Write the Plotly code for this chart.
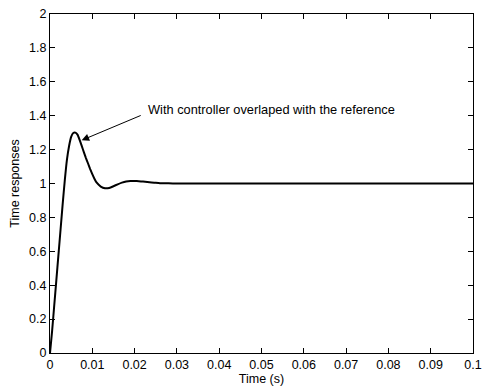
import plotly.graph_objects as go

t = [0, 0.0005, 0.001, 0.0015, 0.002, 0.0025, 0.003, 0.0035, 0.004, 0.0045,
     0.005, 0.0055, 0.006, 0.0065, 0.007, 0.0075, 0.008, 0.0085, 0.009, 0.0095,
     0.010, 0.0105, 0.011, 0.012, 0.013, 0.014, 0.015, 0.016, 0.017, 0.018,
     0.019, 0.020, 0.021, 0.022, 0.023, 0.024, 0.025, 0.026, 0.028, 0.03, 0.1]
y = [0, 0.13, 0.28, 0.43, 0.58, 0.73, 0.88, 1.02, 1.14, 1.22,
     1.275, 1.298, 1.30, 1.288, 1.258, 1.222, 1.185, 1.15, 1.118, 1.085,
     1.055, 1.028, 1.006, 0.982, 0.972, 0.974, 0.984, 0.995, 1.005, 1.012,
     1.015, 1.015, 1.014, 1.012, 1.009, 1.006, 1.004, 1.002, 1.001, 1.0, 1.0]

xticks = [0, 0.01, 0.02, 0.03, 0.04, 0.05, 0.06, 0.07, 0.08, 0.09, 0.1]
xticklabels = ["0", "0.01", "0.02", "0.03", "0.04", "0.05", "0.06", "0.07", "0.08", "0.09", "0.1"]
yticks = [0, 0.2, 0.4, 0.6, 0.8, 1, 1.2, 1.4, 1.6, 1.8, 2]
yticklabels = ["0", "0.2", "0.4", "0.6", "0.8", "1", "1.2", "1.4", "1.6", "1.8", "2"]

annot_text = "With controller overlaped with the reference"
arrow_head = (0.00748, 1.255)
arrow_tail = (0.0218, 1.405)
text_pos = (0.0227, 1.434)

font = dict(family="Liberation Sans, Arial, sans-serif", size=12.5, color="black")
afont = dict(family="Liberation Sans, Arial, sans-serif", size=12.8, color="black")

fig = go.Figure()
fig.add_trace(go.Scatter(x=t, y=y, mode="lines",
                         line=dict(color="black", width=2, shape="spline", smoothing=0.4),
                         showlegend=False, hoverinfo="skip"))

fig.add_annotation(x=arrow_head[0], y=arrow_head[1], ax=arrow_tail[0], ay=arrow_tail[1],
                   xref="x", yref="y", axref="x", ayref="y", text="",
                   showarrow=True, arrowhead=2, arrowsize=1.5, arrowwidth=1, arrowcolor="black")
fig.add_annotation(x=text_pos[0], y=text_pos[1], xref="x", yref="y", text=annot_text,
                   showarrow=False, xanchor="left", yanchor="middle", font=afont)

axis_common = dict(showgrid=False, zeroline=False, showline=True, linecolor="black",
                   linewidth=1, mirror="ticks", ticks="inside", ticklen=5, tickcolor="black",
                   tickfont=font, ticklabeloverflow="allow")

fig.update_xaxes(range=[0, 0.1], tickvals=xticks, ticktext=xticklabels,
                 title=dict(text="Time (s)", font=font, standoff=1), **axis_common)
fig.update_yaxes(range=[0, 2], tickvals=yticks, ticktext=yticklabels,
                 title=dict(text="Time responses", font=font, standoff=6), **axis_common)

fig.update_layout(width=489, height=391, margin=dict(l=50, r=7, t=11, b=38),
                  paper_bgcolor="white", plot_bgcolor="white", font=font)

fig.write_html("out.html")
